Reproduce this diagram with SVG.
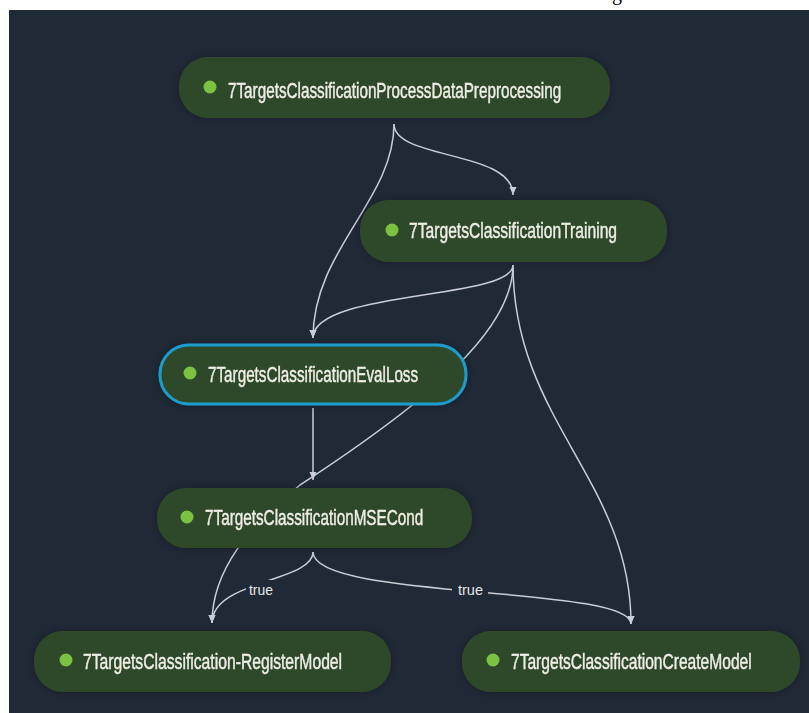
<svg xmlns="http://www.w3.org/2000/svg" width="809" height="713" viewBox="0 0 809 713">
  <style>
    .node-box { fill: #2f4a2a; }
    .sel { stroke: #1f9ccc; stroke-width: 3; }
    .dot { fill: #7cc242; }
    .label { font-family: "Liberation Sans", Arial, sans-serif; font-size: 22px; fill: #eeeee6; stroke: #eeeee6; stroke-width: 0.45; }
    .edge { fill: none; stroke: #c9ced6; stroke-width: 1.5; }
    .elabel { font-family: "Liberation Sans", Arial, sans-serif; font-size: 15px; fill: #e6e6e6; }
  </style>
  <defs>
    <marker id="arr" markerUnits="userSpaceOnUse" markerWidth="9" markerHeight="9" refX="8" refY="4" orient="auto">
      <path d="M0,0.5 L8,4 L0,7.5 z" fill="#c9ced6"/>
    </marker>
    <filter id="sh" x="-10%" y="-30%" width="120%" height="160%">
      <feGaussianBlur in="SourceAlpha" stdDeviation="5"/>
      <feComponentTransfer><feFuncA type="linear" slope="0.35"/></feComponentTransfer>
      <feMerge><feMergeNode/><feMergeNode in="SourceGraphic"/></feMerge>
    </filter>
  </defs>
  <rect x="0" y="0" width="809" height="713" fill="#ffffff"/>
  <text x="612" y="0" font-family="Liberation Serif, serif" font-size="20" fill="#000000">g</text>
  <rect x="9" y="10" width="800" height="703" fill="#202a37"/>

  <g id="connectors">
    <path class="edge" d="M394,124 C394,160 513,150 513,195" marker-end="url(#arr)"/>
    <path class="edge" d="M394,124 C394,200 313,250 313,338" marker-end="url(#arr)"/>
    <path class="edge" d="M513,265 C513,300 313,290 313,338" marker-end="url(#arr)"/>
    <path class="edge" d="M513,265 C513,330 430,400 300,485 C250,525 212,570 212,623" marker-end="url(#arr)"/>
    <path class="edge" d="M513,265 C513,420 631,480 631,624" marker-end="url(#arr)"/>
    <path class="edge" d="M313,408 L313,480" marker-end="url(#arr)"/>
    <path class="edge" d="M313,552 C313,582 212,580 212,623" marker-end="url(#arr)"/>
    <path class="edge" d="M313,552 C313,600 631,585 631,624" marker-end="url(#arr)"/>
    <rect x="246" y="580" width="32" height="19" fill="#202a37"/>
    <text class="elabel" x="249" y="595" textLength="24" lengthAdjust="spacingAndGlyphs">true</text>
    <rect x="452" y="580" width="36" height="19" fill="#202a37"/>
    <text class="elabel" x="458" y="595" textLength="25" lengthAdjust="spacingAndGlyphs">true</text>
  </g>

  <g id="node-preprocessing" filter="url(#sh)">
    <rect class="node-box" x="179" y="57" width="431" height="61" rx="29"/>
    <circle class="dot" cx="210" cy="87" r="6.5"/>
    <text class="label" transform="translate(228,98) scale(0.68,1)" x="0" y="0" textLength="490" lengthAdjust="spacingAndGlyphs">7TargetsClassificationProcessDataPreprocessing</text>
  </g>
  <g id="node-training" filter="url(#sh)">
    <rect class="node-box" x="360" y="200" width="307" height="62" rx="29"/>
    <circle class="dot" cx="392" cy="230" r="6.5"/>
    <text class="label" transform="translate(409,238) scale(0.68,1)" x="0" y="0" textLength="306" lengthAdjust="spacingAndGlyphs">7TargetsClassificationTraining</text>
  </g>
  <g id="node-evalloss" filter="url(#sh)">
    <rect class="node-box sel" x="160" y="345" width="306" height="59" rx="29"/>
    <circle class="dot" cx="190" cy="373" r="6.5"/>
    <text class="label" transform="translate(208,382) scale(0.68,1)" x="0" y="0" textLength="309" lengthAdjust="spacingAndGlyphs">7TargetsClassificationEvalLoss</text>
  </g>
  <g id="node-msecond" filter="url(#sh)">
    <rect class="node-box" x="157" y="488" width="315" height="60" rx="29"/>
    <circle class="dot" cx="187" cy="517" r="6.5"/>
    <text class="label" transform="translate(205,525) scale(0.68,1)" x="0" y="0" textLength="321" lengthAdjust="spacingAndGlyphs">7TargetsClassificationMSECond</text>
  </g>
  <g id="node-registermodel" filter="url(#sh)">
    <rect class="node-box" x="34" y="631" width="357" height="61" rx="29"/>
    <circle class="dot" cx="66" cy="660" r="6.5"/>
    <text class="label" transform="translate(83,669) scale(0.68,1)" x="0" y="0" textLength="381" lengthAdjust="spacingAndGlyphs">7TargetsClassification-RegisterModel</text>
  </g>
  <g id="node-createmodel" filter="url(#sh)">
    <rect class="node-box" x="462" y="631" width="338" height="61" rx="29"/>
    <circle class="dot" cx="493" cy="660" r="6.5"/>
    <text class="label" transform="translate(511,669) scale(0.68,1)" x="0" y="0" textLength="354" lengthAdjust="spacingAndGlyphs">7TargetsClassificationCreateModel</text>
  </g>
</svg>
